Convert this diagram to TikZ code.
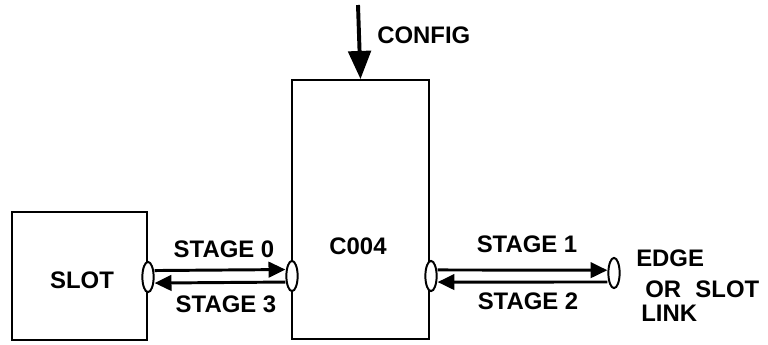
\documentclass[tikz,border=0pt]{standalone}
\usepackage{fontspec}
\setmainfont{Liberation Sans}
\usetikzlibrary{arrows.meta, shapes.geometric, calc}
\tikzset{
  box/.style args={#1/#2}{
    rectangle, draw=black, line width=1.4pt,
    minimum width=#1, minimum height=#2, inner sep=0pt,
  },
  port/.style={
    ellipse, draw=black, fill=white, line width=1.4pt,
    minimum width=8pt, minimum height=21.5pt, inner sep=0pt,
  },
  bus/.style={
    -{Triangle[length=12pt,width=11pt]}, line width=2.1pt,
  },
  lbl/.style={
    font=\fontsize{17}{19}\selectfont\bfseries, inner sep=0pt,
  },
}

\begin{document}
\begin{tikzpicture}[x=0.025cm,y=-0.025cm]
    \useasboundingbox (0,0) rectangle (768,344);
    \node[box=96pt/91pt] (slot) at (79.5,276) {};
    \node[box=97.4pt/184.1pt] (c004) at (360.5,209.5) {};
    \node[lbl] (slottxt) at (82,280) {SLOT};
    \node[lbl] (c004txt) at (358,246) {C004};
    % ports
    \node[port] (pslot) at (148,277) {};
    \node[port] (pcl) at (292,276) {};
    \node[port] (pcr) at (431,276) {};
    \node[port] (plink) at (614,273) {};
    % config input
    \coordinate (cfg) at (358,5);
    \draw[-{Triangle[length=20pt,width=16pt]}, line width=2.8pt] (cfg) -- (c004.north);
    \node[lbl, anchor=west] (cfgtxt) at (377,35) {CONFIG};
    % stage links
    \draw[bus] ([yshift=4.6pt]pslot.east) -- ([yshift=4.6pt]pcl.west);
    \draw[bus] ([yshift=-4.3pt]pcl.west) -- ([yshift=-4.3pt]pslot.east);
    \draw[bus] ([yshift=4.3pt]pcr.east) -- ([yshift=2pt]plink.west);
    \draw[bus] ([yshift=-6.4pt]plink.west) -- ([yshift=-4.3pt]pcr.east);
    \node[lbl] (s0) at (224,249) {STAGE 0};
    \node[lbl] (s3) at (226,304) {STAGE 3};
    \node[lbl] (s1) at (527,244) {STAGE 1};
    \node[lbl] (s2) at (528,301) {STAGE 2};
    \node[lbl, anchor=west] (edge) at (636,258) {EDGE};
    \node[lbl, anchor=west] (orslot) at (645,289) {OR\hspace{0.6em}SLOT};
    \node[lbl, anchor=west] (link) at (641,313) {LINK};
\end{tikzpicture}
\end{document}
